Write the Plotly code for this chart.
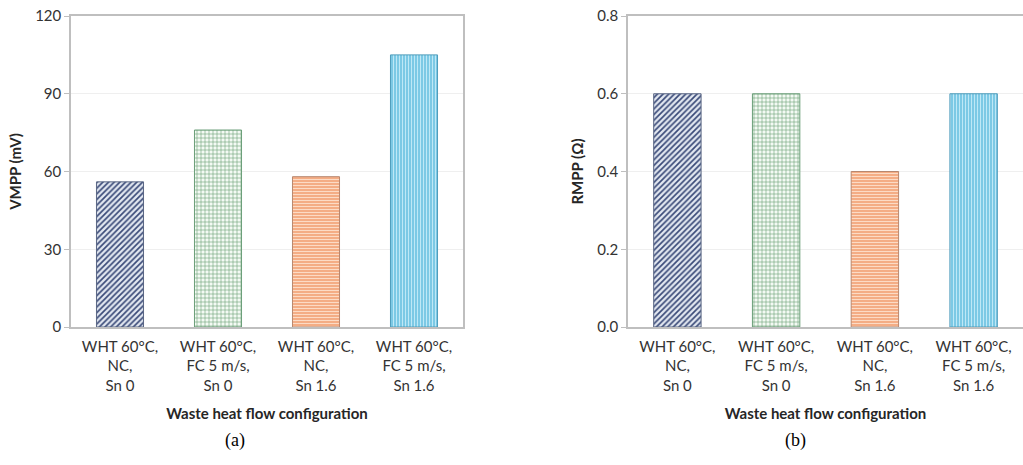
import plotly.graph_objects as go

categories = ["WHT 60°C,<br>NC,<br>Sn 0", "WHT 60°C,<br>FC 5 m/s,<br>Sn 0",
              "WHT 60°C,<br>NC,<br>Sn 1.6", "WHT 60°C,<br>FC 5 m/s,<br>Sn 1.6"]
vmpp = [56, 76, 58, 105]
rmpp = [0.6, 0.6, 0.4, 0.6]

shapes = ["/", "+", "-", "|"]
bgcolors = ["#e3e8f1", "#f4faf4", "#f4ad85", "#7cc9e5"]
fgcolors = ["#3a4a78", "#5b9a69", "#fde0cc", "#c5ecf8"]
linecolors = ["#5a6684", "#6a9e78", "#b8876e", "#4f9cbb"]
sizes = [4, 4, 3, 3]
solid = [0.42, 0.25, 0.3, 0.3]

fig = go.Figure()

def add_bars(vals, xa, ya):
    for i, cat in enumerate(categories):
        fig.add_trace(go.Bar(
            x=[cat], y=[vals[i]], xaxis=xa, yaxis=ya, width=0.48,
            marker=dict(
                color=bgcolors[i],
                line=dict(color=linecolors[i], width=1),
                pattern=dict(shape=shapes[i], fgcolor=fgcolors[i], fgopacity=1,
                             fillmode="overlay", size=sizes[i], solidity=solid[i]),
            ),
            showlegend=False,
        ))

add_bars(vmpp, "x", "y")
add_bars(rmpp, "x2", "y2")

tickfont = dict(family="Lato, Open Sans, sans-serif", size=15, color="#333333")
titlefont = dict(family="Lato, Open Sans, sans-serif", size=15, color="#262626")

axis_common = dict(showline=True, linecolor="#bfbfbf", linewidth=1.5, mirror=True, automargin=False)

ydom = [(465 - 327) / 465, (465 - 16) / 465]

fig.update_layout(
    template="none",
    barmode="overlay",
    width=1023, height=465,
    margin=dict(l=0, r=0, t=0, b=0),
    plot_bgcolor="white", paper_bgcolor="white",
    xaxis=dict(domain=[71 / 1023, 463 / 1023], anchor="y", tickfont=tickfont,
               ticklabelstandoff=5,
               title=dict(text="<b>Waste heat flow configuration</b>", font=titlefont, standoff=16),
               ticks="", showgrid=False, **axis_common),
    yaxis=dict(domain=ydom, anchor="x", range=[0, 120], tickvals=[0, 30, 60, 90, 120],
               tickfont=tickfont, ticks="outside", ticklen=5, tickcolor="#bfbfbf",
               showgrid=True, gridcolor="#efefef", zeroline=False,
               title=dict(text="<b>VMPP (mV)</b>", font=titlefont, standoff=10), **axis_common),
    xaxis2=dict(domain=[628 / 1023, 1.0], anchor="y2", tickfont=tickfont,
                ticklabelstandoff=5,
                title=dict(text="<b>Waste heat flow configuration</b>", font=titlefont, standoff=16),
                ticks="", showgrid=False, **axis_common),
    yaxis2=dict(domain=ydom, anchor="x2", range=[0, 0.8], tickvals=[0, 0.2, 0.4, 0.6, 0.8],
                tickformat=".1f",
                tickfont=tickfont, ticks="outside", ticklen=5, tickcolor="#bfbfbf",
                showgrid=True, gridcolor="#efefef", zeroline=False,
                title=dict(text="<b>RMPP (Ω)</b>", font=titlefont, standoff=10), **axis_common),
    annotations=[
        dict(text="(a)", x=235 / 1023, y=(465 - 440) / 465, xref="paper", yref="paper",
             xanchor="center", yanchor="middle",
             showarrow=False, font=dict(family="Liberation Serif, serif", size=18, color="#000")),
        dict(text="(b)", x=795 / 1023, y=(465 - 440) / 465, xref="paper", yref="paper",
             xanchor="center", yanchor="middle",
             showarrow=False, font=dict(family="Liberation Serif, serif", size=18, color="#000")),
    ],
)

fig.write_html("out.html")
